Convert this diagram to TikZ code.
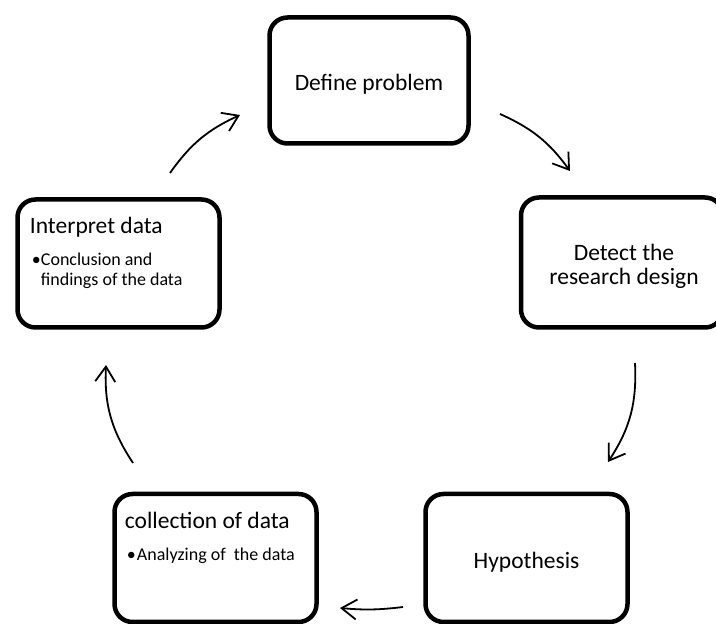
\documentclass[tikz,border=0pt]{standalone}
\usepackage{fontspec}
\setmainfont{Carlito}
\usetikzlibrary{positioning, arrows.meta}

\begin{document}
\begin{tikzpicture}[
        x=1pt, y=1pt,
        stage/.style={draw=black, line width=4.5pt, rounded corners=18pt, minimum width=202pt, minimum height=128pt, inner sep=0pt},
        caption/.style={inner sep=0pt, align=center, font=\fontsize{23.5}{24}\selectfont},
        heading/.style={anchor=base west, inner sep=0pt, font=\fontsize{23.5}{24}\selectfont},
        detail/.style={anchor=base west, inner sep=0pt, align=left, font=\fontsize{18}{19.5}\selectfont},
        flow/.style={line width=1.8pt, -{Straight Barb[length=15pt,width=20pt]}},
    ]
    \useasboundingbox (0,0) rectangle (716,624);

    % === STAGES ===
    \node[stage, minimum width=199pt, minimum height=126pt] (problem) at (369, 543.5) {};
    \node[stage, minimum height=130pt] (design) at (622, 361.5) {};
    \node[stage] (hypo) at (526.5, 66) {};
    \node[stage] (collect) at (215.5, 66) {};
    \node[stage] (interpret) at (118.5, 360.5) {};

    % Centred texts
    \node[caption] (problemtext) at ([yshift=-4]problem.center) {Define problem};
    \node[caption] (designtext) at ([xshift=2, yshift=-4]design.center) {Detect the\\research design};
    \node[caption] (hypotext) at ([yshift=-4]hypo.center) {Hypothesis};

    % Box texts (top left)
    \node[heading] (collecthead) at ([shift={(12.5,-37)}]collect.north west) {collection of data};
    \node[detail] (collectnote) at ([shift={(14.5,-68.5)}]collect.north west) {\makebox[10pt][l]{\textbullet}Analyzing of\ \ the data};
    \node[heading] (interprethead) at ([shift={(14.5,-36)}]interpret.north west) {Interpret data};
    \node[detail] (interpretnote) at ([shift={(16.5,-88)}]interpret.north west) {\makebox[9pt][l]{\textbullet}Conclusion and\\\hspace*{9pt}findings of the data};

    % === CYCLE ARROWS ===
    \coordinate (f1a) at (170, 451);
    \coordinate (f1b) at (240, 509);
    \coordinate (f2a) at (500, 510);
    \coordinate (f2b) at (570, 453);
    \coordinate (f3a) at (635, 261);
    \coordinate (f3b) at (608, 162);
    \coordinate (f4a) at (403, 17);
    \coordinate (f4b) at (340, 16);
    \coordinate (f5a) at (133, 161);
    \coordinate (f5b) at (106, 259);

    \foreach \a/\b/\ang in {f1a/f1b/15, f2a/f2b/15, f3a/f3b/18, f4a/f4b/6, f5a/f5b/18}
        \draw[flow] (\a) to[bend left=\ang] (\b);

\end{tikzpicture}
\end{document}
